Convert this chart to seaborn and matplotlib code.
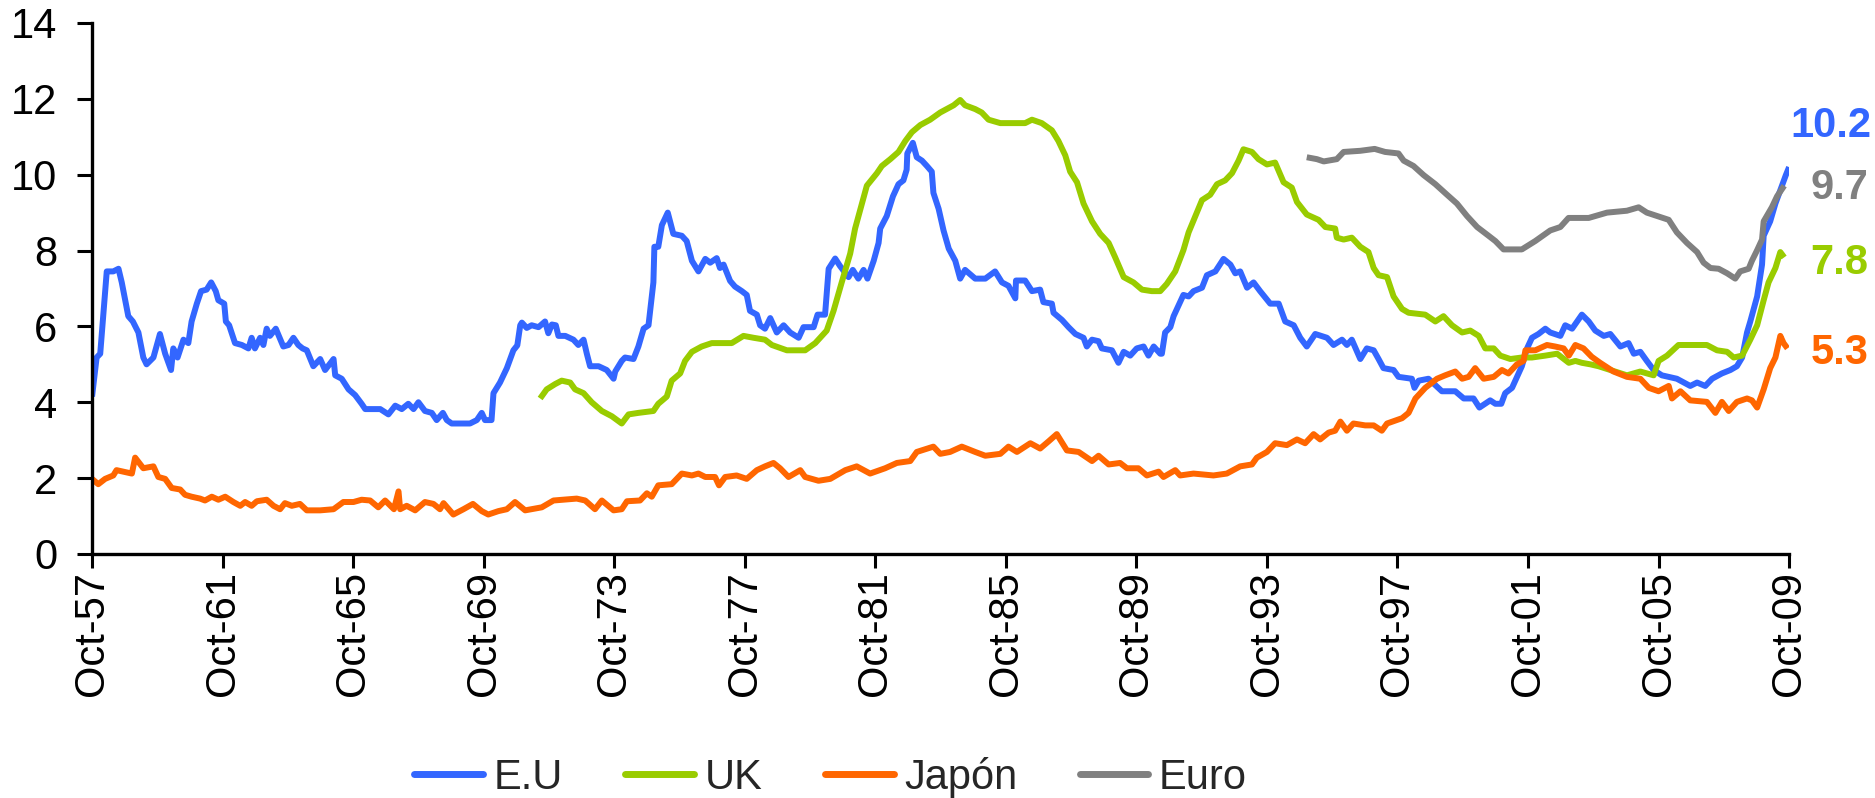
import pandas as pd
import matplotlib.pyplot as plt
import seaborn as sns
from matplotlib.lines import Line2D

# Tasas de desempleo (%), fechas en años decimales
eu_t = [1957.75, 1957.89, 1958.0, 1958.2, 1958.4, 1958.56, 1958.66, 1958.86, 1959.0, 1959.17,
        1959.32, 1959.42, 1959.63, 1959.83, 1959.99, 1960.17, 1960.24, 1960.37, 1960.55, 1960.7,
        1960.8, 1960.96, 1961.09, 1961.26, 1961.4, 1961.54, 1961.62, 1961.8, 1961.85, 1961.95,
        1962.13, 1962.34, 1962.54, 1962.64, 1962.74, 1962.9, 1963.0, 1963.1, 1963.2, 1963.38,
        1963.61, 1963.77, 1963.92, 1964.07, 1964.2, 1964.33, 1964.53, 1964.74, 1964.89, 1965.15,
        1965.2, 1965.4, 1965.61, 1965.81, 1966.01, 1966.12, 1966.58, 1966.83, 1967.04, 1967.24,
        1967.44, 1967.6, 1967.75, 1967.95, 1968.16, 1968.31, 1968.5, 1968.62, 1968.77, 1969.33,
        1969.54, 1969.69, 1969.79, 1969.99, 1970.05, 1970.25, 1970.46, 1970.66, 1970.78, 1970.87,
        1970.92, 1971.07, 1971.22, 1971.43, 1971.63, 1971.73, 1971.84, 1971.96, 1972.04, 1972.25,
        1972.5, 1972.65, 1972.81, 1972.91, 1973.01, 1973.27, 1973.52, 1973.73, 1973.78, 1973.98,
        1974.08, 1974.34, 1974.49, 1974.65, 1974.8, 1974.95, 1974.98, 1975.1, 1975.21, 1975.39,
        1975.46, 1975.56, 1975.82, 1975.97, 1976.13, 1976.33, 1976.54, 1976.69, 1976.89, 1976.99,
        1977.1, 1977.3, 1977.45, 1977.66, 1977.81, 1977.91, 1978.12, 1978.22, 1978.37, 1978.53,
        1978.73, 1978.94, 1979.14, 1979.4, 1979.55, 1979.86, 1979.98, 1980.21, 1980.28, 1980.32,
        1980.52, 1980.67, 1980.93, 1981.06, 1981.23, 1981.39, 1981.51, 1981.7, 1981.85, 1981.9,
        1982.1, 1982.29, 1982.46, 1982.61, 1982.71, 1982.73, 1982.9, 1983.02, 1983.18, 1983.33,
        1983.48, 1983.53, 1983.69, 1983.84, 1984.0, 1984.2, 1984.35, 1984.5, 1984.81, 1985.12,
        1985.42, 1985.63, 1985.83, 1986.04, 1986.06, 1986.34, 1986.55, 1986.8, 1986.9, 1987.16,
        1987.21, 1987.47, 1987.67, 1987.88, 1988.13, 1988.23, 1988.39, 1988.59, 1988.69, 1989.0,
        1989.2, 1989.36, 1989.56, 1989.76, 1989.97, 1990.12, 1990.28, 1990.48, 1990.53, 1990.63,
        1990.79, 1990.89, 1991.04, 1991.19, 1991.35, 1991.5, 1991.76, 1991.91, 1992.17, 1992.42,
        1992.63, 1992.78, 1992.93, 1993.14, 1993.34, 1993.54, 1993.85, 1994.11, 1994.31, 1994.57,
        1994.77, 1994.97, 1995.23, 1995.59, 1995.79, 1996.05, 1996.2, 1996.35, 1996.61, 1996.81,
        1997.02, 1997.17, 1997.32, 1997.63, 1997.78, 1998.19, 1998.27, 1998.4, 1998.7, 1999.11,
        1999.52, 1999.78, 2000.08, 2000.26, 2000.59, 2000.75, 2000.93, 2001.05, 2001.26, 2001.56,
        2001.72, 2001.87, 2002.07, 2002.28, 2002.43, 2002.74, 2002.89, 2003.1, 2003.4, 2003.61,
        2003.81, 2004.07, 2004.27, 2004.58, 2004.83, 2004.99, 2005.19, 2005.39, 2005.6, 2005.85,
        2006.31, 2006.72, 2006.93, 2007.18, 2007.39, 2007.69, 2007.95, 2008.15, 2008.31, 2008.46,
        2008.56, 2008.77, 2008.92, 2008.97, 2009.17, 2009.33, 2009.53, 2009.65, 2009.75]
eu_v = [4.15, 5.18, 5.28, 7.45, 7.45, 7.52, 7.16, 6.27, 6.13, 5.84,
        5.18, 5.0, 5.18, 5.8, 5.28, 4.85, 5.42, 5.18, 5.65, 5.56,
        6.13, 6.6, 6.93, 6.97, 7.16, 6.93, 6.69, 6.6, 6.13, 6.03,
        5.56, 5.51, 5.42, 5.7, 5.42, 5.7, 5.51, 5.94, 5.75, 5.94,
        5.47, 5.51, 5.7, 5.51, 5.42, 5.37, 4.95, 5.14, 4.85, 5.14,
        4.71, 4.62, 4.34, 4.19, 3.96, 3.82, 3.82, 3.68, 3.91, 3.82,
        3.96, 3.82, 4.0, 3.77, 3.72, 3.53, 3.72, 3.53, 3.44, 3.44,
        3.53, 3.72, 3.53, 3.53, 4.24, 4.52, 4.9, 5.37, 5.5, 6.03,
        6.1, 5.96, 6.03, 5.98, 6.13, 5.82, 6.05, 6.03, 5.75, 5.75,
        5.65, 5.51, 5.65, 5.28, 4.95, 4.95, 4.85, 4.62, 4.81, 5.09,
        5.18, 5.14, 5.47, 5.94, 6.03, 7.16, 8.1, 8.1, 8.67, 9.0,
        8.77, 8.44, 8.39, 8.25, 7.73, 7.45, 7.78, 7.68, 7.8, 7.54,
        7.63, 7.2, 7.05, 6.93, 6.83, 6.41, 6.31, 6.03, 5.94, 6.22,
        5.84, 6.03, 5.84, 5.7, 5.98, 5.98, 6.31, 6.31, 7.07, 7.52,
        7.79, 7.59, 7.3, 7.49, 7.26, 7.49, 7.26, 7.73, 8.2, 8.58,
        8.91, 9.43, 9.75, 9.85, 10.13, 10.56, 10.84, 10.46, 10.37, 10.23,
        10.08, 9.52, 9.1, 8.53, 8.05, 7.73, 7.26, 7.49, 7.26, 7.26,
        7.45, 7.16, 7.07, 6.74, 7.21, 7.21, 6.93, 6.97, 6.64, 6.6,
        6.36, 6.17, 5.98, 5.8, 5.7, 5.47, 5.65, 5.61, 5.42, 5.37,
        5.04, 5.33, 5.23, 5.42, 5.47, 5.23, 5.47, 5.28, 5.28, 5.84,
        5.98, 6.27, 6.55, 6.83, 6.79, 6.93, 7.02, 7.35, 7.45, 7.78,
        7.63, 7.4, 7.45, 7.02, 7.16, 6.93, 6.6, 6.6, 6.13, 6.03,
        5.7, 5.47, 5.8, 5.7, 5.51, 5.65, 5.51, 5.65, 5.14, 5.42,
        5.37, 5.14, 4.9, 4.85, 4.67, 4.62, 4.38, 4.57, 4.62, 4.29,
        4.29, 4.1, 4.1, 3.86, 4.05, 3.96, 3.96, 4.24, 4.38, 4.95,
        5.42, 5.7, 5.8, 5.94, 5.84, 5.75, 6.03, 5.94, 6.31, 6.13,
        5.89, 5.75, 5.8, 5.47, 5.56, 5.28, 5.33, 5.09, 4.85, 4.71,
        4.62, 4.43, 4.52, 4.43, 4.62, 4.76, 4.85, 4.95, 5.18, 5.84,
        6.13, 6.79, 7.63, 8.39, 8.77, 9.24, 9.71, 9.99, 10.2]

uk_t = [1971.48, 1971.68, 1971.94, 1972.14, 1972.4, 1972.55, 1972.81, 1973.06, 1973.37, 1973.68,
        1973.98, 1974.19, 1974.49, 1974.95, 1975.1, 1975.36, 1975.51, 1975.77, 1975.92, 1976.13,
        1976.43, 1976.74, 1977.35, 1977.71, 1978.02, 1978.37, 1978.58, 1979.04, 1979.6, 1979.91,
        1980.26, 1980.47, 1980.72, 1980.98, 1981.13, 1981.34, 1981.49, 1981.8, 1981.95, 1982.21,
        1982.46, 1982.67, 1982.87, 1983.13, 1983.43, 1983.74, 1984.04, 1984.15, 1984.35, 1984.5,
        1984.81, 1985.01, 1985.22, 1985.58, 1986.34, 1986.55, 1986.85, 1987.16, 1987.36, 1987.57,
        1987.72, 1987.93, 1988.13, 1988.39, 1988.64, 1988.9, 1989.1, 1989.36, 1989.66, 1989.92,
        1990.22, 1990.48, 1990.68, 1990.94, 1991.19, 1991.35, 1991.6, 1991.76, 1992.01, 1992.22,
        1992.47, 1992.68, 1992.88, 1993.03, 1993.29, 1993.49, 1993.75, 1994.0, 1994.26, 1994.51,
        1994.67, 1994.97, 1995.33, 1995.54, 1995.84, 1995.89, 1996.1, 1996.35, 1996.61, 1996.86,
        1997.02, 1997.17, 1997.43, 1997.63, 1997.89, 1998.09, 1998.6, 1998.91, 1999.16, 1999.42,
        1999.73, 1999.98, 2000.24, 2000.44, 2000.7, 2000.9, 2001.21, 2001.56, 2001.87, 2002.28,
        2002.64, 2003.0, 2003.2, 2003.4, 2003.66, 2003.91, 2004.27, 2004.78, 2005.19, 2005.6,
        2005.75, 2006.01, 2006.36, 2006.62, 2007.23, 2007.54, 2007.85, 2008.05, 2008.31, 2008.56,
        2008.77, 2008.97, 2009.12, 2009.33, 2009.48, 2009.6]
uk_v = [4.1, 4.34, 4.48, 4.57, 4.52, 4.34, 4.24, 4.0, 3.77, 3.63,
        3.44, 3.68, 3.72, 3.77, 3.96, 4.15, 4.57, 4.76, 5.09, 5.33,
        5.47, 5.56, 5.56, 5.75, 5.7, 5.65, 5.51, 5.37, 5.37, 5.56,
        5.89, 6.41, 7.16, 7.92, 8.58, 9.24, 9.71, 10.04, 10.23, 10.41,
        10.6, 10.89, 11.12, 11.31, 11.45, 11.64, 11.78, 11.83, 11.97, 11.83,
        11.73, 11.64, 11.45, 11.36, 11.36, 11.45, 11.36, 11.17, 10.89, 10.51,
        10.08, 9.8, 9.24, 8.77, 8.44, 8.2, 7.82, 7.3, 7.16, 6.97,
        6.93, 6.93, 7.12, 7.45, 8.01, 8.48, 9.0, 9.33, 9.47, 9.75,
        9.85, 10.04, 10.37, 10.67, 10.6, 10.41, 10.27, 10.32, 9.8, 9.66,
        9.28, 8.95, 8.81, 8.62, 8.58, 8.34, 8.29, 8.34, 8.1, 7.96,
        7.54, 7.35, 7.3, 6.79, 6.46, 6.36, 6.31, 6.13, 6.27, 6.03,
        5.84, 5.89, 5.75, 5.42, 5.42, 5.23, 5.14, 5.18, 5.18, 5.23,
        5.28, 5.04, 5.09, 5.04, 5.0, 4.95, 4.85, 4.71, 4.81, 4.71,
        5.09, 5.23, 5.51, 5.51, 5.51, 5.37, 5.33, 5.18, 5.23, 5.65,
        6.03, 6.69, 7.16, 7.54, 7.96, 7.82]

jp_t = [1957.75, 1957.94, 1958.15, 1958.4, 1958.5, 1958.71, 1958.97, 1959.07, 1959.32, 1959.63,
        1959.78, 1959.99, 1960.19, 1960.45, 1960.6, 1960.8, 1961.06, 1961.21, 1961.42, 1961.62,
        1961.83, 1962.08, 1962.29, 1962.44, 1962.64, 1962.8, 1963.1, 1963.31, 1963.51, 1963.66,
        1963.87, 1964.12, 1964.33, 1964.74, 1965.15, 1965.45, 1965.76, 1966.01, 1966.27, 1966.52,
        1966.73, 1967.0, 1967.14, 1967.19, 1967.39, 1967.65, 1967.95, 1968.21, 1968.41, 1968.52,
        1968.82, 1969.13, 1969.42, 1969.69, 1969.89, 1970.2, 1970.46, 1970.71, 1971.02, 1971.53,
        1971.89, 1972.6, 1972.86, 1973.16, 1973.37, 1973.73, 1973.98, 1974.14, 1974.54, 1974.75,
        1974.9, 1975.1, 1975.51, 1975.82, 1976.13, 1976.33, 1976.54, 1976.84, 1976.96, 1977.15,
        1977.5, 1977.81, 1978.12, 1978.37, 1978.63, 1978.83, 1979.09, 1979.45, 1979.6, 1980.01,
        1980.37, 1980.83, 1981.18, 1981.59, 1982.05, 1982.41, 1982.82, 1983.02, 1983.53, 1983.74,
        1984.04, 1984.4, 1984.81, 1985.12, 1985.58, 1985.83, 1986.09, 1986.5, 1986.8, 1987.06,
        1987.31, 1987.62, 1987.98, 1988.39, 1988.59, 1988.9, 1989.25, 1989.46, 1989.81, 1990.07,
        1990.43, 1990.58, 1990.94, 1991.09, 1991.5, 1992.11, 1992.52, 1992.93, 1993.29, 1993.44,
        1993.75, 1994.0, 1994.36, 1994.67, 1994.92, 1995.18, 1995.38, 1995.64, 1995.84, 1996.0,
        1996.2, 1996.4, 1996.76, 1997.02, 1997.27, 1997.43, 1997.89, 1998.09, 1998.3, 1998.6,
        1998.96, 1999.21, 1999.52, 1999.73, 1999.93, 2000.13, 2000.39, 2000.7, 2000.95, 2001.15,
        2001.41, 2001.61, 2001.67, 2001.97, 2002.33, 2002.58, 2002.84, 2003.0, 2003.2, 2003.45,
        2003.7, 2003.96, 2004.37, 2004.78, 2005.19, 2005.45, 2005.75, 2006.06, 2006.16, 2006.42,
        2006.72, 2007.23, 2007.49, 2007.69, 2007.9, 2008.15, 2008.46, 2008.61, 2008.77, 2008.97,
        2009.17, 2009.33, 2009.48, 2009.58, 2009.7]
jp_v = [1.98, 1.84, 1.98, 2.07, 2.21, 2.17, 2.12, 2.54, 2.26, 2.31,
        2.03, 1.98, 1.74, 1.7, 1.56, 1.51, 1.46, 1.41, 1.51, 1.43,
        1.51, 1.37, 1.27, 1.37, 1.27, 1.39, 1.43, 1.27, 1.18, 1.34,
        1.27, 1.32, 1.15, 1.15, 1.18, 1.37, 1.37, 1.43, 1.41, 1.23,
        1.41, 1.18, 1.65, 1.18, 1.27, 1.15, 1.37, 1.32, 1.18, 1.34,
        1.04, 1.18, 1.32, 1.13, 1.04, 1.13, 1.18, 1.37, 1.15, 1.23,
        1.41, 1.46, 1.41, 1.18, 1.41, 1.15, 1.18, 1.39, 1.41, 1.6,
        1.51, 1.81, 1.84, 2.12, 2.07, 2.12, 2.03, 2.03, 1.81, 2.03,
        2.07, 1.98, 2.21, 2.31, 2.4, 2.26, 2.03, 2.21, 2.03, 1.93,
        1.98, 2.21, 2.31, 2.12, 2.26, 2.4, 2.45, 2.69, 2.83, 2.64,
        2.69, 2.83, 2.69, 2.59, 2.64, 2.83, 2.69, 2.92, 2.78, 2.97,
        3.16, 2.73, 2.69, 2.45, 2.59, 2.36, 2.4, 2.26, 2.26, 2.07,
        2.17, 2.03, 2.21, 2.07, 2.12, 2.07, 2.12, 2.31, 2.36, 2.54,
        2.69, 2.92, 2.87, 3.02, 2.92, 3.16, 3.02, 3.2, 3.25, 3.49,
        3.25, 3.44, 3.39, 3.39, 3.25, 3.44, 3.58, 3.72, 4.1, 4.38,
        4.62, 4.71, 4.81, 4.62, 4.67, 4.9, 4.62, 4.67, 4.85, 4.76,
        5.0, 5.09, 5.37, 5.37, 5.51, 5.47, 5.42, 5.23, 5.51, 5.42,
        5.2, 5.04, 4.81, 4.67, 4.62, 4.38, 4.29, 4.43, 4.1, 4.29,
        4.05, 4.01, 3.72, 4.01, 3.77, 4.01, 4.1, 4.05, 3.86, 4.34,
        4.9, 5.18, 5.75, 5.56, 5.42]

euro_t = [1994.97, 1995.28, 1995.49, 1995.89, 1996.1, 1996.61, 1997.05, 1997.37, 1997.78, 1997.94,
          1998.24, 1998.55, 1998.91, 1999.27, 1999.57, 1999.88, 2000.19, 2000.54, 2000.75, 2001.0,
          2001.56, 2001.97, 2002.43, 2002.74, 2002.99, 2003.61, 2004.17, 2004.78, 2005.14, 2005.39,
          2006.06, 2006.31, 2006.62, 2006.93, 2007.13, 2007.34, 2007.59, 2007.85, 2008.1, 2008.25,
          2008.51, 2008.61, 2008.77, 2008.92, 2008.97, 2009.22, 2009.38, 2009.6]
euro_v = [10.46, 10.41, 10.35, 10.41, 10.6, 10.63, 10.68, 10.6, 10.56, 10.37,
          10.23, 9.99, 9.75, 9.47, 9.24, 8.91, 8.62, 8.39, 8.25, 8.03,
          8.03, 8.25, 8.53, 8.62, 8.86, 8.86, 9.0, 9.05, 9.14, 9.0,
          8.81, 8.48, 8.2, 7.96, 7.68, 7.54, 7.52, 7.4, 7.26, 7.45,
          7.52, 7.73, 8.01, 8.29, 8.77, 9.14, 9.43, 9.71]

series = ['E.U', 'UK', 'Japón', 'Euro']
colors = ['#3366FF', '#99CC00', '#FF6600', '#808080']
end_labels = ['10.2', '9.7', '7.8', '5.3']
end_label_y = [11.28, 9.65, 7.67, 5.3]
end_label_x = [2009.8, 2010.4, 2010.4, 2010.4]
end_colors = ['#3366FF', '#808080', '#99CC00', '#FF6600']

tick_years = list(range(1957, 2010, 4))
tick_labels = ['Oct-%02d' % (y % 100) for y in tick_years]

frames = []
for name, t, v in zip(series, [eu_t, uk_t, jp_t, euro_t], [eu_v, uk_v, jp_v, euro_v]):
    frames.append(pd.DataFrame({'fecha': t, 'tasa': v, 'serie': name}))
df = pd.concat(frames, ignore_index=True)

sns.set_style('ticks')
plt.rcParams['font.family'] = ['Liberation Sans', 'DejaVu Sans']

fig = plt.figure(figsize=(18.75, 7.98), dpi=100)
ax = fig.add_axes([0.0491, 0.3058, 0.9051, 0.6654])

sns.lineplot(data=df, x='fecha', y='tasa', hue='serie', hue_order=series,
             palette=colors, estimator=None, linewidth=4.3, legend=False, ax=ax)
for ln in ax.lines:
    ln.set_solid_joinstyle('round')
    ln.set_solid_capstyle('butt')

ax.set_xlim(1957.75, 2009.75)
ax.set_ylim(0, 14)
ax.set_yticks(range(0, 15, 2))
ax.set_xticks([y + 0.75 for y in tick_years])
ax.set_xticklabels(tick_labels, rotation=90)
ax.set_xlabel('')
ax.set_ylabel('')

for side in ['top', 'right']:
    ax.spines[side].set_visible(False)
for side in ['left', 'bottom']:
    ax.spines[side].set_linewidth(2.4)
    ax.spines[side].set_color('black')

ax.tick_params(axis='y', length=11, width=2.2, pad=14, labelsize=30, colors='black')
ax.tick_params(axis='x', length=10, width=2.2, pad=2, labelsize=30, colors='black')

for txt, x, y, c in zip(end_labels, end_label_x, end_label_y, end_colors):
    ax.text(x, y, txt, color=c, fontsize=30, fontweight='bold', ha='left', va='center',
            clip_on=False)

handles = [Line2D([0], [0], color=c, lw=5) for c in colors]
fig.legend(handles, series, loc='center', bbox_to_anchor=(0.443, 0.026), ncol=4,
           frameon=False, fontsize=30, handlelength=1.65, handletextpad=0.25,
           columnspacing=1.5)

fig.savefig('out.png', dpi=100)
